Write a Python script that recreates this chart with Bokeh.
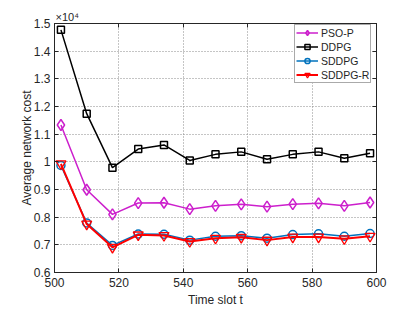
from bokeh.plotting import figure
from bokeh.models import (LinearAxis, FixedTicker, CustomJSTickFormatter, Legend,
                          LegendItem, Range1d)
from bokeh.embed import file_html
from bokeh.resources import INLINE

# ---- data ----
t = [502, 510, 518, 526, 534, 542, 550, 558, 566, 574, 582, 590, 598]
pso_p = [11330, 8990, 8100, 8510, 8520, 8290, 8410, 8465, 8380, 8470, 8500, 8410, 8530]
ddpg = [14770, 11740, 9790, 10460, 10610, 10050, 10270, 10360, 10090, 10270, 10360, 10130, 10310]
sddpg = [9870, 7790, 6980, 7390, 7380, 7170, 7310, 7330, 7240, 7370, 7400, 7310, 7410]
sddpg_r = [9930, 7750, 6910, 7360, 7340, 7120, 7240, 7270, 7170, 7280, 7280, 7220, 7310]
x_ticks = [500, 520, 540, 560, 580, 600]
y_ticks = [6000, 7000, 8000, 9000, 10000, 11000, 12000, 13000, 14000, 15000]
series_names = ["PSO-P", "DDPG", "SDDPG", "SDDPG-R"]

FONT = "Liberation Sans"
AX = "#262626"

p = figure(width=415, height=309, output_backend="svg", toolbar_location=None,
           x_range=Range1d(500, 600), y_range=Range1d(6000, 15000),
           min_border_left=54, min_border_right=39, min_border_top=23,
           min_border_bottom=35)
p.background_fill_color = "white"
p.border_fill_color = "white"
p.outline_line_color = AX
p.outline_line_width = 1

fmt_y = CustomJSTickFormatter(code="return String(Number((tick/1e4).toFixed(1)));")

def style_axis(ax):
    ax.axis_line_color = AX
    ax.major_tick_line_color = AX
    ax.major_tick_in = 4
    ax.major_tick_out = 0
    ax.minor_tick_line_color = None
    ax.major_label_text_font = FONT
    ax.major_label_text_font_size = "12px"
    ax.major_label_text_color = AX
    ax.axis_label_text_font = FONT
    ax.axis_label_text_font_size = "12px"
    ax.axis_label_text_font_style = "normal"
    ax.axis_label_text_color = AX

p.xaxis.ticker = FixedTicker(ticks=x_ticks)
p.yaxis.ticker = FixedTicker(ticks=y_ticks)
p.yaxis.formatter = fmt_y
style_axis(p.xaxis[0])
style_axis(p.yaxis[0])
p.xaxis.axis_label = "Time slot t"
p.yaxis.axis_label = "Average network cost"
p.xaxis.major_label_standoff = 5
p.yaxis.major_label_standoff = 4
p.xaxis.axis_label_standoff = 3
p.yaxis.axis_label_standoff = -3

top = LinearAxis(ticker=FixedTicker(ticks=x_ticks),
                 formatter=CustomJSTickFormatter(code="return '';"))
right = LinearAxis(ticker=FixedTicker(ticks=y_ticks),
                   formatter=CustomJSTickFormatter(code="return '';"))
for ax in (top, right):
    style_axis(ax)
    ax.major_label_standoff = 0
p.add_layout(top, "above")
p.add_layout(right, "right")

for g in (p.xgrid[0], p.ygrid[0]):
    g.grid_line_color = "#8a8a8a"
    g.grid_line_dash = "1 2"
    g.grid_line_width = 1

colors = ["#CC1FCC", "#000000", "#0072BD", "#FF0000"]
data = [pso_p, ddpg, sddpg, sddpg_r]
items = []
for name, ys, c in zip(series_names, data, colors):
    lw = 2 if name == "SDDPG-R" else 1.5
    ln = p.line(t, ys, line_color=c, line_width=lw)
    if name == "PSO-P":
        mk = p.scatter(t, ys, marker="diamond", size=11, line_color=c, line_width=1.5,
                       fill_alpha=0)
    elif name == "DDPG":
        mk = p.scatter(t, ys, marker="square", size=7, line_color=c, line_width=1.5,
                       fill_alpha=0)
    elif name == "SDDPG":
        mk = p.scatter(t, ys, marker="circle", size=8, line_color=c, line_width=1.5,
                       fill_alpha=0)
    else:
        mk = p.scatter(t, ys, marker="inverted_triangle", size=10, line_color=c,
                       line_width=1.3, fill_alpha=0)
    items.append(LegendItem(label=name, renderers=[ln, mk]))

legend = Legend(items=items, location=(240, 189))
legend.label_text_font = FONT
legend.label_text_font_size = "10.5px"
legend.label_text_color = AX
legend.glyph_width = 22
legend.glyph_height = 13
legend.label_height = 13
legend.spacing = 1
legend.padding = 1
legend.margin = 0
legend.label_standoff = 3
legend.border_line_color = "#555555"
legend.border_line_width = 1
legend.background_fill_color = "white"
legend.background_fill_alpha = 1
p.add_layout(legend, "center")

p.title.text = "×10⁴"
p.title.align = "left"
p.title.offset = 1
p.title.standoff = 2
p.title.text_font = FONT
p.title.text_font_size = "11px"
p.title.text_font_style = "normal"
p.title.text_color = AX

open("out.html", "w").write(file_html(p, INLINE))
